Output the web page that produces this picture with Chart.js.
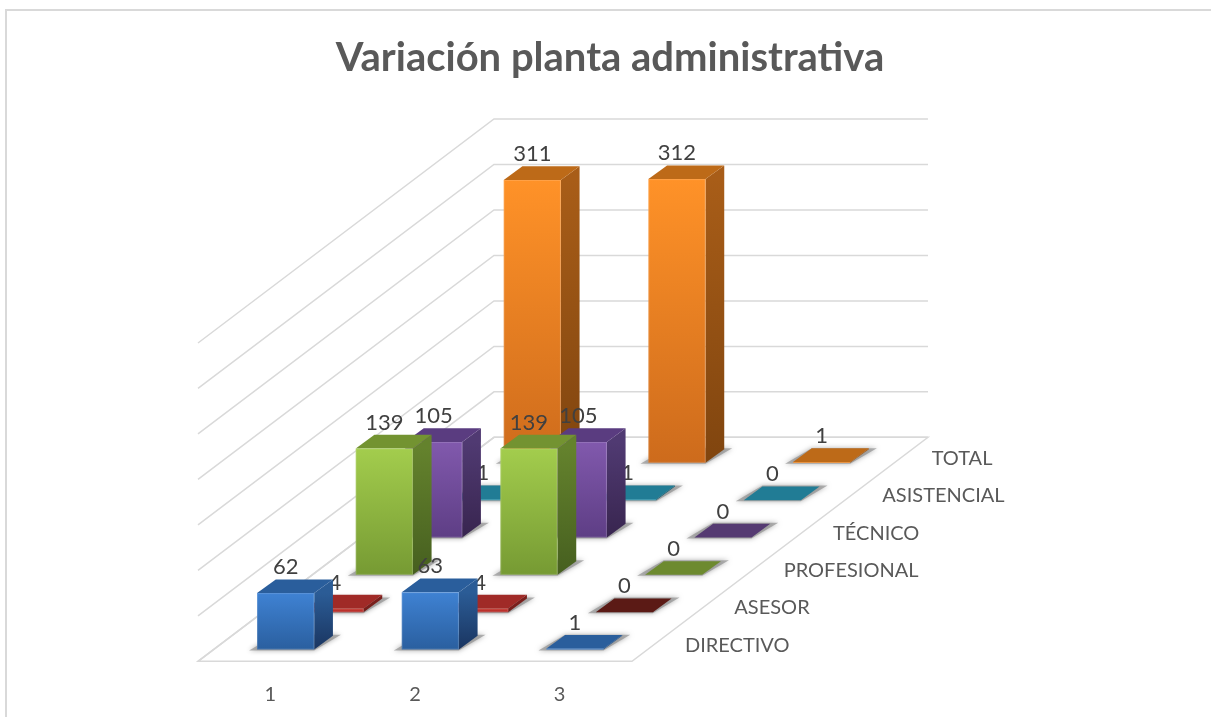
<!DOCTYPE html>
<html>
<head>
<meta charset="utf-8">
<script src="https://cdn.jsdelivr.net/npm/chart.js@4"></script>
<style>
html,body{margin:0;padding:0;background:#fff;overflow:hidden;width:1211px;height:717px}
#frame{position:absolute;left:5px;top:9px;width:1300px;height:800px;border:2px solid #d9d9d9;box-sizing:border-box}
#c{position:absolute;left:5px;top:9px}
</style>
</head>
<body>
<div id="frame"></div>
<canvas id="c" width="1210" height="708"></canvas>
<script>
const categories = ['1', '2', '3'];
const seriesNames = ['DIRECTIVO', 'ASESOR', 'PROFESIONAL', 'TÉCNICO', 'ASISTENCIAL', 'TOTAL'];
const directivo = [62, 63, 1];
const asesor = [4, 4, 0];
const profesional = [139, 139, 0];
const tecnico = [105, 105, 0];
const asistencial = [1, 1, 0];
const total = [311, 312, 1];
const seriesValues = [directivo, asesor, profesional, tecnico, asistencial, total];

// style: [front top, front bottom, side top, side bottom, top face, top face when value is 0]
const palette = [
  ['#3f82d3', '#2a5f9f', '#2b5c96', '#1a3560', '#2a5e9c', '#2a5a95'],
  ['#c8362f', '#b02c28', '#7a1f1c', '#5c1a16', '#a02a27', '#5b1a15'],
  ['#a3cd4d', '#769a33', '#64822d', '#465f1f', '#739331', '#6d8a2f'],
  ['#8159ad', '#5e3e85', '#503a72', '#38254f', '#5a3c80', '#553a72'],
  ['#2b98b4', '#217c95', '#1b6479', '#1b6479', '#217c95', '#217c95'],
  ['#ff9228', '#cd6b1c', '#a85d18', '#80450f', '#bd6a18', '#b8651a']
];

const ROW_DX = 49.33, ROW_DY = 37.33;   // floor step per series row
const BOX_DX = 18.7, BOX_DY = 13.7;     // depth of one bar
const GAP_DX = (ROW_DX - BOX_DX) / 2, GAP_DY = (ROW_DY - BOX_DY) / 2;
const FLOOR_DX = ROW_DX * seriesNames.length, FLOOR_DY = ROW_DY * seriesNames.length;

function poly(ctx, pts) {
  ctx.beginPath();
  pts.forEach((p, i) => i ? ctx.lineTo(p[0], p[1]) : ctx.moveTo(p[0], p[1]));
  ctx.closePath();
}
function vgrad(ctx, y0, y1, a, b) {
  const g = ctx.createLinearGradient(0, y0, 0, y1 === y0 ? y0 + 1 : y1);
  g.addColorStop(0, a); g.addColorStop(1, b);
  return g;
}

const box3d = {
  id: 'box3d',
  beforeDatasetsDraw(chart) {
    const { ctx, scales: { x, y } } = chart;
    const L = x.left, R = x.right, Y0 = y.getPixelForValue(0);
    ctx.save();
    ctx.strokeStyle = '#d9d9d9';
    ctx.lineWidth = 1.5;
    y.ticks.forEach(t => {
      const py = y.getPixelForValue(t.value);
      ctx.beginPath();
      ctx.moveTo(L, py);
      ctx.lineTo(L + FLOOR_DX, py - FLOOR_DY);
      ctx.lineTo(R + FLOOR_DX, py - FLOOR_DY);
      ctx.stroke();
    });
    poly(ctx, [[L, Y0], [R, Y0], [R + FLOOR_DX, Y0 - FLOOR_DY], [L + FLOOR_DX, Y0 - FLOOR_DY]]);
    ctx.stroke();
    ctx.fillStyle = '#595959';
    ctx.font = '20px Lato';
    ctx.textAlign = 'left';
    ctx.textBaseline = 'middle';
    seriesNames.forEach((n, i) => {
      ctx.fillText(n, R + 53 + i * ROW_DX, Y0 - 16 - i * ROW_DY);
    });
    ctx.restore();
  },
  beforeDatasetDraw(chart, args) {
    const { ctx } = chart;
    const i = args.index;
    const col = palette[i];
    ctx.save();
    ctx.translate(GAP_DX + i * ROW_DX, -(GAP_DY + i * ROW_DY));
    args.meta.data.forEach((el, k) => {
      const xl = el.x - el.width / 2, xr = el.x + el.width / 2, t = el.y, b = el.base;
      // floor shadow
      ctx.save();
      ctx.shadowColor = 'rgba(0,0,0,0.5)';
      ctx.shadowBlur = 5;
      ctx.fillStyle = 'rgba(140,140,140,0.65)';
      poly(ctx, [[xl - 8, b + 1], [xr, b + 1], [xr + BOX_DX + 8, b - BOX_DY - 1], [xl + BOX_DX, b - BOX_DY - 1]]);
      ctx.fill();
      ctx.restore();
      // side face
      ctx.fillStyle = vgrad(ctx, t, b, col[2], col[3]);
      poly(ctx, [[xr, t], [xr + BOX_DX, t - BOX_DY], [xr + BOX_DX, b - BOX_DY], [xr, b]]);
      ctx.fill();
      // top face
      const v = seriesValues[i][k];
      ctx.fillStyle = v === 0 ? col[5] : col[4];
      poly(ctx, [[xl, t], [xl + BOX_DX, t - BOX_DY], [xr + BOX_DX, t - BOX_DY], [xr, t]]);
      ctx.fill();
    });
  },
  afterDatasetDraw(chart, args) {
    const { ctx } = chart;
    const i = args.index;
    args.meta.data.forEach((el, k) => {
      if (el.base - el.y > 2) {
        ctx.strokeStyle = 'rgba(255,255,255,0.14)';
        ctx.lineWidth = 1;
        ctx.strokeRect(el.x - el.width / 2 + 0.5, el.y + 0.5, el.width - 1, el.base - el.y - 1);
      }
      ctx.fillStyle = '#404040';
      ctx.font = '22px Lato';
      ctx.textAlign = 'center';
      ctx.textBaseline = 'middle';
      ctx.fillText(String(seriesValues[i][k]), el.x, el.y - 26);
    });
    ctx.restore();
  }
};

const datasets = seriesNames.map((name, i) => ({
  label: name,
  data: seriesValues[i],
  clip: false,
  borderWidth: 0,
  backgroundColor(c) {
    const ch = c.chart;
    if (!ch.chartArea || c.parsed === undefined) return palette[i][0];
    const y = ch.scales.y;
    const top = y.getPixelForValue(c.parsed.y), bot = y.getPixelForValue(0);
    if (bot - top < 2) return palette[i][0];
    return vgrad(ch.ctx, top, bot, palette[i][0], palette[i][1]);
  }
}));

new Chart(document.getElementById('c'), {
  type: 'bar',
  data: { labels: categories, datasets },
  plugins: [box3d],
  options: {
    responsive: false,
    animation: false,
    grouped: false,
    categoryPercentage: 1,
    barPercentage: 0.395,
    layout: { padding: 0 },
    plugins: {
      legend: { display: false },
      tooltip: { enabled: false },
      title: {
        display: true,
        text: 'Variación planta administrativa',
        color: '#595959',
        font: { family: 'Lato', size: 40, weight: 'bold', lineHeight: 1.2 },
        padding: { top: 25, bottom: 261 }
      }
    },
    scales: {
      x: {
        grid: { display: false, drawTicks: false },
        border: { display: false },
        ticks: { color: '#595959', font: { family: 'Lato', size: 20 }, padding: 21, maxRotation: 0 },
        afterFit(s) { s.height = 55.7; }
      },
      y: {
        min: 0, max: 350,
        ticks: { display: false, stepSize: 50 },
        grid: { display: false, drawTicks: false },
        border: { display: false },
        afterFit(s) { s.width = 193; }
      },
      r: {
        type: 'linear',
        position: 'right',
        ticks: { display: false },
        grid: { display: false, drawTicks: false },
        border: { display: false },
        afterFit(s) { s.width = 583; }
      }
    }
  }
});
</script>
</body>
</html>
